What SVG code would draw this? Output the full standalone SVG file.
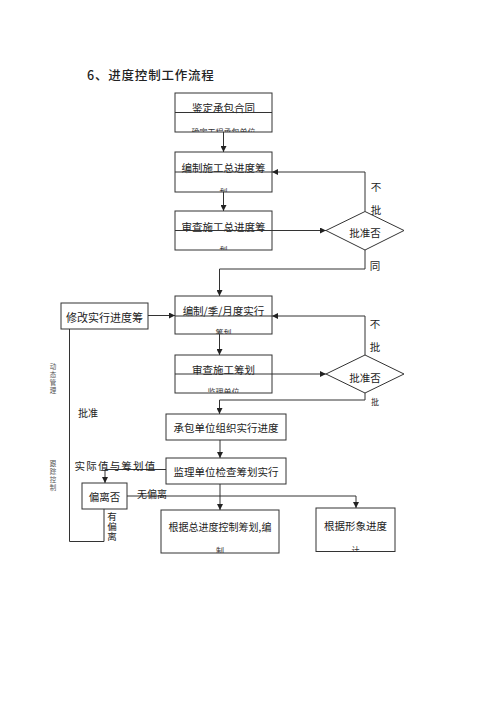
<svg xmlns="http://www.w3.org/2000/svg" width="500" height="707" viewBox="0 0 500 707">
<defs>
<style>
.box{fill:#fff;stroke:#333;stroke-width:1}
.ln{fill:none;stroke:#333;stroke-width:1}
.t{font-family:"Noto Sans CJK SC",sans-serif;font-size:10.5px;fill:#222;text-anchor:middle;dominant-baseline:central}
.s{font-family:"Noto Sans CJK SC",sans-serif;font-size:8px;fill:#333;text-anchor:middle}
.v{font-family:"Noto Sans CJK SC",sans-serif;font-size:6.5px;fill:#555;text-anchor:middle;writing-mode:vertical-rl;letter-spacing:1.5px}
.lb{font-family:"Noto Sans CJK SC",sans-serif;font-size:10.5px;fill:#222;text-anchor:middle;dominant-baseline:central}
</style>
<marker id="ah" viewBox="0 0 10 10" refX="10" refY="5" markerWidth="6" markerHeight="6" orient="auto" markerUnits="userSpaceOnUse">
<path d="M0,0 L10,5 L0,10 z" fill="#222"/>
</marker>
<clipPath id="c1"><rect x="175" y="93" width="97" height="39"/></clipPath>
<clipPath id="c2"><rect x="175" y="152" width="97" height="40"/></clipPath>
<clipPath id="c3"><rect x="175" y="211" width="97" height="39"/></clipPath>
<clipPath id="c4"><rect x="175" y="296" width="97" height="38"/></clipPath>
<clipPath id="c5"><rect x="175" y="355" width="97" height="38"/></clipPath>
<clipPath id="c8"><rect x="161" y="510" width="118" height="43"/></clipPath>
<clipPath id="c9"><rect x="316" y="508" width="79" height="43.5"/></clipPath>
</defs>
<rect width="500" height="707" fill="#fff"/>
<text x="87" y="74" font-family="'Noto Sans CJK SC',sans-serif" font-size="12.5" font-weight="500" fill="#222" dominant-baseline="central" letter-spacing="0.8">6、进度控制工作流程</text>

<g id="connectors">
<line class="ln" x1="223.5" y1="132" x2="223.5" y2="152" marker-end="url(#ah)"/>
<polyline class="ln" points="365,211.5 365,172 272,172" marker-end="url(#ah)"/>
<line class="ln" x1="223.5" y1="192" x2="223.5" y2="211" marker-end="url(#ah)"/>
<line class="ln" x1="272" y1="230.5" x2="326" y2="230.5" marker-end="url(#ah)"/>
<polyline class="ln" points="365,250 365,269 219.5,269 219.5,296" marker-end="url(#ah)"/>
<line class="ln" x1="148" y1="315.5" x2="175" y2="315.5" marker-end="url(#ah)"/>
<polyline class="ln" points="365,355 365,316 272,316" marker-end="url(#ah)"/>
<line class="ln" x1="219.5" y1="334" x2="219.5" y2="355" marker-end="url(#ah)"/>
<line class="ln" x1="272" y1="374" x2="326" y2="374" marker-end="url(#ah)"/>
<polyline class="ln" points="365,393 365,400 219.5,400 219.5,414" marker-end="url(#ah)"/>
<line class="ln" x1="220" y1="440" x2="220" y2="458" marker-end="url(#ah)"/>
<polyline class="ln" points="166,469.5 105,469.5 105,483" marker-end="url(#ah)"/>
<line class="ln" x1="220" y1="484" x2="220" y2="510" marker-end="url(#ah)"/>
<polyline class="ln" points="127,496 356,496 356,508" marker-end="url(#ah)"/>
<polyline class="ln" points="104,509 104,541.5 69.5,541.5 69.5,329"/>
</g>

<g id="n1">
<rect class="box" x="175" y="93" width="97" height="39"/>
<text class="t" x="223.5" y="107.5">鉴定承包合同</text>
<line class="ln" x1="175" y1="112.5" x2="272" y2="112.5"/>
<text class="s" x="223.5" y="134.5" clip-path="url(#c1)">确定工程承包单位</text>
</g>
<g id="n2">
<rect class="box" x="175" y="152" width="97" height="40"/>
<text class="t" x="223.5" y="167">编制施工总进度筹</text>
<line class="ln" x1="175" y1="172" x2="272" y2="172"/>
<text class="s" x="223.5" y="194.5" clip-path="url(#c2)">划</text>
</g>
<g id="n3">
<rect class="box" x="175" y="211" width="97" height="39"/>
<text class="t" x="223.5" y="226">审查施工总进度筹</text>
<line class="ln" x1="175" y1="230.5" x2="272" y2="230.5"/>
<text class="s" x="223.5" y="252.5" clip-path="url(#c3)">划</text>
</g>
<g id="d1">
<polygon class="box" points="365,211.5 404,230.5 365,250 326,230.5"/>
<text class="t" x="365" y="232.5">批准否</text>
</g>
<text class="lb" x="376" y="186.5">不</text>
<text class="lb" x="376" y="209">批</text>
<text class="lb" x="375" y="265">同</text>

<g id="n4">
<rect class="box" x="175" y="296" width="97" height="38"/>
<text class="t" x="223.5" y="310.5">编制/季/月度实行</text>
<line class="ln" x1="175" y1="316" x2="272" y2="316"/>
<text class="s" x="223.5" y="336" clip-path="url(#c4)">筹划</text>
</g>
<g id="n0">
<rect class="box" x="61" y="303" width="87" height="26"/>
<text class="t" x="104.5" y="316.5" style="font-size:11px">修改实行进度筹</text>
</g>
<g id="n5">
<rect class="box" x="175" y="355" width="97" height="38"/>
<text class="t" x="223.5" y="369.5">审查施工筹划</text>
<line class="ln" x1="175" y1="374" x2="272" y2="374"/>
<text class="s" x="223.5" y="395" clip-path="url(#c5)">监理单位</text>
</g>
<g id="d2">
<polygon class="box" points="365,355 404,374 365,393 326,374"/>
<text class="t" x="365" y="377.5">批准否</text>
</g>
<text class="lb" x="375" y="323">不</text>
<text class="lb" x="375" y="346">批</text>
<text class="lb" x="375" y="401" style="font-size:8px">批</text>

<g id="n6">
<rect class="box" x="166" y="414" width="120" height="26"/>
<text class="t" x="226" y="427">承包单位组织实行进度</text>
</g>
<g id="n7">
<rect class="box" x="166" y="458" width="120" height="26"/>
<text class="t" x="226" y="471.5">监理单位检查筹划实行</text>
</g>
<text class="lb" x="115.5" y="465" letter-spacing="1.2">实际值与筹划值</text>
<g id="n10">
<rect class="box" x="82" y="483" width="45" height="26"/>
<text class="t" x="104.5" y="496">偏离否</text>
</g>
<text class="lb" x="152" y="493" style="font-size:10px">无偏离</text>
<text x="112" y="526.5" font-family="'Noto Sans CJK SC',sans-serif" font-size="9.5" fill="#222" text-anchor="middle" writing-mode="vertical-rl" letter-spacing="0.5">有偏离</text>
<text class="lb" x="88" y="412.5" style="font-size:10px">批准</text>

<g id="n8">
<rect class="box" x="161" y="510" width="118" height="43"/>
<text class="t" x="220" y="526.5" style="font-size:10px">根据总进度控制筹划,编</text>
<text class="s" x="220" y="554" clip-path="url(#c8)">制</text>
</g>
<g id="n9">
<rect class="box" x="316" y="508" width="79" height="43.5"/>
<text class="t" x="355.5" y="525">根据形象进度</text>
<text class="s" x="355.5" y="552.5" clip-path="url(#c9)">计</text>
</g>

<text class="v" x="53" y="379">动态管理</text>
<text class="v" x="53" y="476">跟踪控制</text>
</svg>
